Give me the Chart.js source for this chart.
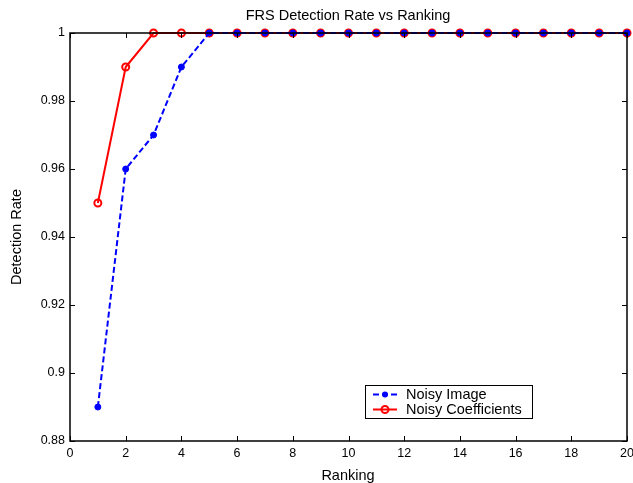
<!DOCTYPE html>
<html><head><meta charset="utf-8">
<script src="https://cdn.jsdelivr.net/npm/chart.js@4/dist/chart.umd.min.js"></script>
<style>html,body{margin:0;padding:0;background:#fff}#wrap{width:633px;height:483px}</style>
</head><body><div id="wrap"><canvas id="c" width="633" height="483"></canvas></div>
<script>
const rankings = [1,2,3,4,5,6,7,8,9,10,11,12,13,14,15,16,17,18,19,20];
const noisyImage = [0.89,0.96,0.97,0.99,1,1,1,1,1,1,1,1,1,1,1,1,1,1,1,1];
const noisyCoefficients = [0.95,0.99,1,1,1,1,1,1,1,1,1,1,1,1,1,1,1,1,1,1];
const xTicks = [0,2,4,6,8,10,12,14,16,18,20];
const yTicks = [0.88,0.9,0.92,0.94,0.96,0.98,1];
const seriesNames = ['Noisy Image','Noisy Coefficients'];
const titleText = 'FRS Detection Rate vs Ranking';
const xTitle = 'Ranking';
const yTitle = 'Detection Rate';

const FONT = 'Liberation Sans, Arial, Helvetica, sans-serif';

const framePlugin = {
  id: 'frame',
  afterDatasetsDraw(chart) {
    const ctx = chart.ctx, a = chart.chartArea;
    const xs = chart.scales.x, ys = chart.scales.y;
    ctx.save();
    ctx.strokeStyle = '#000';
    ctx.lineWidth = 1.5;
    ctx.beginPath();
    ctx.rect(a.left, a.top, a.right - a.left, a.bottom - a.top);
    ctx.stroke();
    ctx.lineWidth = 1;
    ctx.beginPath();
    xTicks.forEach(v => {
      const p = Math.round(xs.getPixelForValue(v)) + 0.5;
      ctx.moveTo(p, a.bottom); ctx.lineTo(p, a.bottom - 5);
      ctx.moveTo(p, a.top); ctx.lineTo(p, a.top + 5);
    });
    yTicks.forEach(v => {
      const p = Math.round(ys.getPixelForValue(v)) + 0.5;
      ctx.moveTo(a.left, p); ctx.lineTo(a.left + 5, p);
      ctx.moveTo(a.right, p); ctx.lineTo(a.right - 5, p);
    });
    ctx.stroke();
    ctx.restore();
  },
  afterDraw(chart) {
    const ctx = chart.ctx, a = chart.chartArea;
    ctx.save();
    ctx.fillStyle = '#000';
    ctx.font = '14.5px ' + FONT;
    ctx.textAlign = 'center';
    ctx.textBaseline = 'middle';
    ctx.fillText(titleText, 348, 16);
    ctx.fillText(xTitle, 348, 476);
    ctx.save();
    ctx.translate(17, (a.top + a.bottom) / 2);
    ctx.rotate(-Math.PI / 2);
    ctx.fillText(yTitle, 0, 0);
    ctx.restore();

    // legend
    const lx = 365, ly = 385, lw = 167, lh = 33;
    ctx.fillStyle = '#fff';
    ctx.fillRect(lx, ly, lw, lh);
    ctx.strokeStyle = '#000';
    ctx.lineWidth = 1;
    ctx.strokeRect(lx + 0.5, ly + 0.5, lw, lh);
    const rows = [ly + 9.5, ly + 24.5];
    chart.data.datasets.forEach((ds, i) => {
      const y = rows[i];
      ctx.strokeStyle = ds.borderColor;
      ctx.lineWidth = 2;
      ctx.setLineDash(ds.borderDash || []);
      ctx.beginPath(); ctx.moveTo(373, y); ctx.lineTo(397, y); ctx.stroke();
      ctx.setLineDash([]);
      ctx.beginPath();
      ctx.arc(385, y, ds.pointRadius, 0, Math.PI * 2);
      if (i === 0) { ctx.fillStyle = ds.pointBackgroundColor; ctx.fill(); }
      else { ctx.stroke(); }
      ctx.fillStyle = '#000';
      ctx.textAlign = 'left';
      ctx.font = '14.5px ' + FONT;
      ctx.fillText(ds.label, 406, y + 0.5);
    });
    ctx.restore();
  }
};

new Chart(document.getElementById('c'), {
  type: 'line',
  data: {
    datasets: [
      {
        label: seriesNames[0],
        data: rankings.map((r, i) => ({x: r, y: noisyImage[i]})),
        borderColor: '#0000ff',
        backgroundColor: '#0000ff',
        borderWidth: 2,
        borderDash: [6, 3],
        pointRadius: 3,
        pointBackgroundColor: '#0000ff',
        pointBorderColor: '#0000ff',
        pointBorderWidth: 1,
        fill: false,
        tension: 0
      },
      {
        label: seriesNames[1],
        data: rankings.map((r, i) => ({x: r, y: noisyCoefficients[i]})),
        borderColor: '#ff0000',
        backgroundColor: 'rgba(0,0,0,0)',
        borderWidth: 2,
        pointRadius: 3.5,
        pointBackgroundColor: 'rgba(0,0,0,0)',
        pointBorderColor: '#ff0000',
        pointBorderWidth: 2,
        fill: false,
        tension: 0
      }
    ]
  },
  options: {
    responsive: false,
    animation: false,
    devicePixelRatio: 1,
    clip: false,
    layout: { padding: { top: 33, right: 5, left: 0, bottom: 0 } },
    plugins: { legend: { display: false }, title: { display: false }, tooltip: { enabled: false } },
    scales: {
      x: {
        type: 'linear', min: 0, max: 20,
        afterBuildTicks(s) { s.ticks = xTicks.map(v => ({value: v})); },
        afterFit(s) { s.height = 42; s.paddingLeft = 0; s.paddingRight = 0; },
        grid: { display: false, drawTicks: false },
        border: { display: false },
        ticks: { color: '#000', padding: 5, font: { family: FONT, size: 12.5 }, maxRotation: 0, autoSkip: false, callback: v => String(v) }
      },
      y: {
        type: 'linear', min: 0.88, max: 1,
        afterBuildTicks(s) { s.ticks = yTicks.map(v => ({value: v})); },
        afterFit(s) { s.width = 70; s.paddingTop = 0; s.paddingBottom = 0; },
        grid: { display: false, drawTicks: false },
        border: { display: false },
        ticks: { color: '#000', padding: 5, font: { family: FONT, size: 12.5 }, autoSkip: false, callback: v => String(parseFloat(v.toFixed(2))) }
      }
    }
  },
  plugins: [framePlugin]
});
</script>
</body></html>
